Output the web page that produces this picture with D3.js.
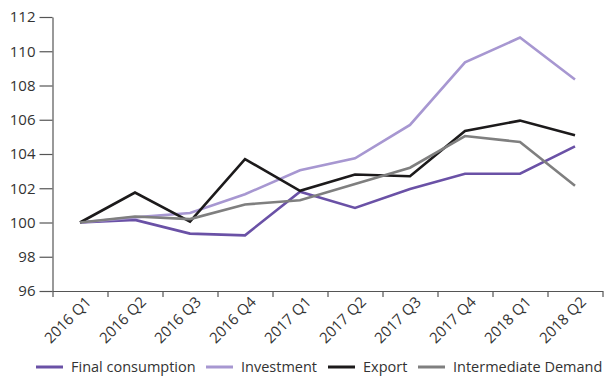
<!DOCTYPE html>
<html>
<head>
<meta charset="utf-8">
<script src="https://cdn.jsdelivr.net/npm/d3@7"></script>
<style>
  html, body { margin: 0; padding: 0; background: #fff; }
  svg text { font-family: "Open Sans", "DejaVu Sans", sans-serif; fill: #333; }
</style>
</head>
<body>
<svg id="chart" width="606" height="377"></svg>
<script>
// Quarterly demand indices (2016 Q1 = 100)
const quarters = ["2016 Q1", "2016 Q2", "2016 Q3", "2016 Q4", "2017 Q1",
                  "2017 Q2", "2017 Q3", "2017 Q4", "2018 Q1", "2018 Q2"];
const finalConsumption   = [100.0, 100.15, 99.35, 99.25, 101.8, 100.85, 101.95, 102.85, 102.85, 104.45];
const investment         = [100.0, 100.3, 100.55, 101.65, 103.05, 103.75, 105.7, 109.35, 110.8, 108.35];
const exportIdx          = [100.0, 101.75, 100.05, 103.7, 101.85, 102.8, 102.7, 105.35, 105.95, 105.1];
const intermediateDemand = [100.0, 100.35, 100.2, 101.05, 101.3, 102.25, 103.2, 105.05, 104.7, 102.15];
const yTicks = [96, 98, 100, 102, 104, 106, 108, 110, 112];

const series = [
  { name: "Final consumption",   values: finalConsumption,   color: "#6a51a6" },
  { name: "Investment",          values: investment,         color: "#a797d1" },
  { name: "Export",              values: exportIdx,          color: "#1c1a1b" },
  { name: "Intermediate Demand", values: intermediateDemand, color: "#7f7f7f" }
];

const svg = d3.select("#chart");
const plotLeft = 52.5, plotRight = 602.5, plotTop = 17, plotBottom = 291;

// index-based x scale: integer positions are band edges, +0.5 is the point
const x = d3.scaleLinear().domain([0, quarters.length]).range([plotLeft, plotRight]);
const y = d3.scaleLinear().domain([96, 112]).range([plotBottom, plotTop]);

const axisColor = "#555";

// y axis
const gy = svg.append("g")
  .attr("transform", `translate(${plotLeft},0)`)
  .call(d3.axisLeft(y).tickValues(yTicks).tickSize(13).tickPadding(4).tickSizeOuter(0));
gy.selectAll("text").style("font-size", "15px").attr("fill", "#333");

// x axis with ticks at band edges
const gx = svg.append("g")
  .attr("transform", `translate(0,${plotBottom})`)
  .call(d3.axisBottom(x).tickValues(d3.range(0, quarters.length + 1)).tickSize(6)
        .tickFormat("").tickSizeOuter(0));

svg.selectAll(".domain, .tick line").attr("stroke", axisColor).attr("stroke-width", 1.2);

// rotated category labels
svg.append("g").selectAll("text")
  .data(quarters)
  .join("text")
  .attr("transform", (d, i) => `translate(${x(i + 0.5) + 12},${plotBottom + 12}) rotate(-45)`)
  .attr("text-anchor", "end")
  .style("font-size", "15px")
  .text(d => d);

// lines
const line = d3.line()
  .x((d, i) => x(i + 0.5))
  .y(d => y(d));

svg.append("g").selectAll("path")
  .data(series)
  .join("path")
  .attr("fill", "none")
  .attr("stroke", d => d.color)
  .attr("stroke-width", 2.6)
  .attr("stroke-linejoin", "miter")
  .attr("d", d => line(d.values));

// legend
const legendY = 367;
const legendItems = [
  { s: series[0], x0: 36 },
  { s: series[1], x0: 206 },
  { s: series[2], x0: 328 },
  { s: series[3], x0: 418 }
];
const lg = svg.append("g");
legendItems.forEach(it => {
  lg.append("line")
    .attr("x1", it.x0).attr("x2", it.x0 + 27)
    .attr("y1", legendY).attr("y2", legendY)
    .attr("stroke", it.s.color).attr("stroke-width", 3);
  lg.append("text")
    .attr("x", it.x0 + 35).attr("y", legendY)
    .attr("dy", "0.35em")
    .style("font-size", "14.5px")
    .text(it.s.name);
});
</script>
</body>
</html>
